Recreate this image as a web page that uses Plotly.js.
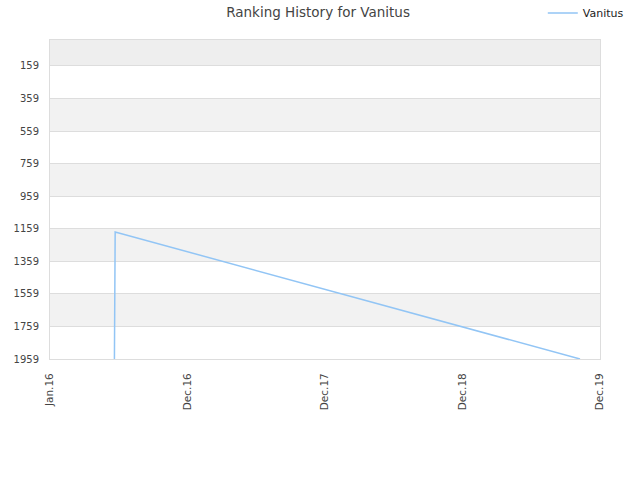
<!DOCTYPE html>
<html>
<head>
<meta charset="utf-8">
<script src="https://cdn.plot.ly/plotly-3.0.1.min.js"></script>
<style>html,body{margin:0;padding:0;background:#fff;}#chart{width:640px;height:480px;}</style>
</head>
<body>
<div id="chart"></div>
<script>
// Data
const seriesName = "Vanitus";
const dates = ["2016-06-20", "2016-06-20", "2016-06-20", "2016-06-21", "2016-06-22", "2019-11-08"];
const ranks = [1959, 1492, 1259, 1222, 1179, 1959];

const tickDates = ["2016-01-01", "2016-12-31", "2017-12-31", "2018-12-31", "2019-12-31"];
const tickLabels = ["Jan.16", "Dec.16", "Dec.17", "Dec.18", "Dec.19"];
const yTicks = [159, 359, 559, 759, 959, 1159, 1359, 1559, 1759, 1959];

// Alternating background bands
const bandEdges = [0].concat(yTicks);
const shapes = [];
for (let i = 0; i < bandEdges.length - 1; i++) {
  if (i % 2 === 0) {
    shapes.push({
      type: "rect", xref: "paper", yref: "y", layer: "below",
      x0: 0, x1: 1, y0: bandEdges[i], y1: bandEdges[i + 1],
      fillcolor: i === 0 ? "#eeeeee" : "#f2f2f2", line: {width: 0}
    });
  }
}

const trace = {
  x: dates, y: ranks, type: "scatter", mode: "lines", name: seriesName,
  line: {color: "#92c5f5", width: 1.5}
};

const layout = {
  width: 640, height: 480,
  margin: {l: 50, r: 40, t: 40, b: 121, autoexpand: false},
  paper_bgcolor: "#fff", plot_bgcolor: "#fff",
  font: {family: "DejaVu Sans, sans-serif", size: 10, color: "#444"},
  title: {text: "Ranking History for Vanitus", x: 0.497, xanchor: "center", y: 0.975, yanchor: "middle", font: {size: 13.5, color: "#444"}},
  showlegend: true,
  legend: {x: 0.896, xanchor: "left", y: 1.085, yanchor: "middle",
           itemwidth: 30, font: {size: 11, color: "#222"}, bgcolor: "rgba(0,0,0,0)"},
  xaxis: {
    type: "date", range: ["2016-01-01", "2019-12-31"],
    tickvals: tickDates, ticktext: tickLabels, tickangle: -90,
    showgrid: false, zeroline: false, showline: true, linecolor: "#ddd", mirror: true,
    ticks: "outside", ticklen: 9, tickcolor: "rgba(0,0,0,0)", tickfont: {size: 10.5, color: "#444"},
    automargin: false
  },
  yaxis: {
    range: [1959, 0], tickvals: yTicks, ticktext: yTicks.map(String),
    showgrid: true, gridcolor: "#dddddd", zeroline: false,
    showline: true, linecolor: "#ddd", mirror: true,
    ticks: "outside", ticklen: 8, tickcolor: "rgba(0,0,0,0)", tickfont: {size: 10, color: "#444"}, automargin: false
  },
  shapes: shapes
};

Plotly.newPlot("chart", [trace], layout, {displayModeBar: false, staticPlot: true});
</script>
</body>
</html>
